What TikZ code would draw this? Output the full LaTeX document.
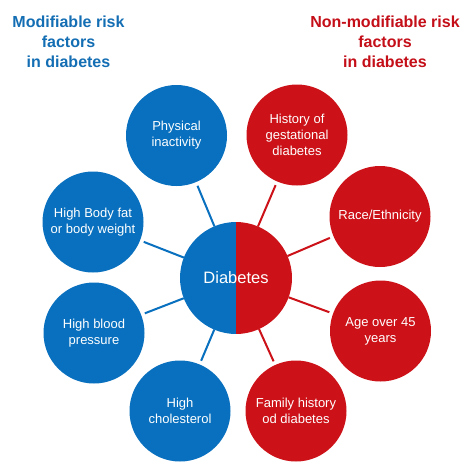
\documentclass[tikz,border=0pt]{standalone}
\usepackage{fontspec}
\setmainfont{Liberation Sans}
\definecolor{mblue}{RGB}{8,112,190}
\definecolor{mred}{RGB}{204,18,24}
\definecolor{tblue}{RGB}{20,110,180}
\definecolor{tred}{RGB}{196,14,24}
\tikzset{
  factor/.style={circle, minimum size=101pt, inner sep=0pt, outer sep=0pt, text=white, align=center, font=\fontsize{13}{15.8}\selectfont},
  bfac/.style={factor, fill=mblue},
  rfac/.style={factor, fill=mred},
  bconn/.style={draw=mblue, line width=2pt, shorten <=4pt},
  rconn/.style={draw=mred, line width=2pt, shorten <=4pt},
  ttl/.style={align=center, font=\bfseries\fontsize{16}{20}\selectfont}
}
\begin{document}
\begin{tikzpicture}[x=1pt,y=-1pt]
\useasboundingbox (0,0) rectangle (474,474);
\fill[white] (0,0) rectangle (474,474);
% titles
\node[ttl, text=tblue] (tl) at (68.5,42) {Modifiable risk\\factors\\in diabetes};
\node[ttl, text=tred] (tr) at (385,42) {Non-modifiable risk\\factors\\in diabetes};
% centre
\node[circle, minimum size=112pt, inner sep=0pt, outer sep=0pt, text=white,
  font=\fontsize{16.5}{20}\selectfont,
  path picture={
    \fill[mblue] (path picture bounding box.south west) rectangle (path picture bounding box.north);
    \fill[mred] (path picture bounding box.south) rectangle (path picture bounding box.north east);
  }] (dia) at (236,278) {Diabetes};
% blue factors
\node[bfac] (pi) at (176.5,135.5) {Physical\\inactivity};
\node[bfac] (bf) at (93,222) {High Body fat\\or body weight};
\node[bfac] (bp) at (94,333) {High blood\\pressure};
\node[bfac] (hc) at (180,411) {High\\cholesterol};
% red factors
\node[rfac] (gd) at (297,135) {History of\\gestational\\diabetes};
\node[rfac] (re) at (380,216.5) {Race/Ethnicity};
\node[rfac] (ag) at (380.5,331) {Age over 45\\years};
\node[rfac] (fh) at (296,411) {Family history\\od diabetes};
% connectors
\draw[bconn] (pi) -- (dia);
\draw[bconn] (bf) -- (dia);
\draw[bconn] (bp) -- (dia);
\draw[bconn] (hc) -- (dia);
\draw[rconn] (gd) -- (dia);
\draw[rconn] (re) -- (dia);
\draw[rconn] (ag) -- (dia);
\draw[rconn] (fh) -- (dia);
\end{tikzpicture}
\end{document}
